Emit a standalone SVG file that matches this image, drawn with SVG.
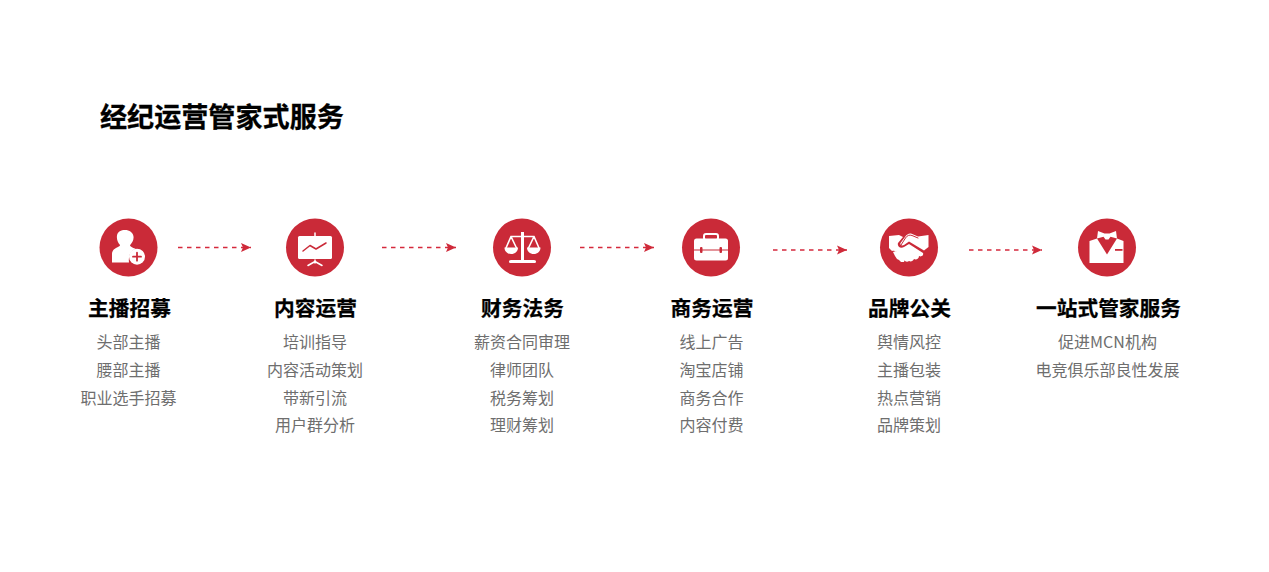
<svg xmlns="http://www.w3.org/2000/svg" width="1269" height="572" viewBox="0 0 1269 572">
<style>
text{font-family:"Noto Sans CJK SC","Noto Sans",sans-serif;text-anchor:middle}
.t{font-size:27.100px;font-weight:700;fill:#000;text-anchor:start;stroke:#000;stroke-width:.3}
.h{font-size:20.700px;font-weight:700;fill:#000;stroke:#000;stroke-width:.25}
.l{font-size:16px;fill:#6e6e6e}
.c{fill:#ca2a38}
.w{fill:#fff}
.n{fill:none;stroke:#fff;stroke-linecap:round;stroke-linejoin:round}
.r{fill:none;stroke:#ca2a38;stroke-linecap:round;stroke-linejoin:round}
.a{fill:none;stroke:#d5293c;stroke-width:1.500;stroke-dasharray:4.500 4.500;marker-end:url(#m)}
</style>
<defs><marker id="m" markerUnits="userSpaceOnUse" markerWidth="12" markerHeight="10" refX="10" refY="5" orient="auto"><path d="M0 0.500L10 5L0 9.500L2 5Z" fill="#cf2a3a"/></marker></defs>
<rect width="1269" height="572" fill="#fff"/>
<text class="t" x="100" y="127">经纪运营管家式服务</text>
<g id="connectors">
<path class="a" d="M178 247.500H251"/>
<path class="a" d="M382 247.500H456"/>
<path class="a" d="M580 247.500H654"/>
<path class="a" d="M773 250H847"/>
<path class="a" d="M969 250H1042"/>
</g>
<g id="node1">
<circle class="c" cx="128.500" cy="247.500" r="29"/>
<path class="w" d="M112 262.500V254.500C112 250.500 114 249 117 247.500C119 246.500 120 246 120 245C117.500 242 116.500 239 117 235.500C117.700 231.500 121 230 125 230C129.500 230 133 232.500 133.500 236.500C134 240 132 243 130 245.200C130.500 247 134 248 136 249C131 250 128 255 129 262.500Z"/>
<circle class="w" cx="137" cy="256.700" r="8"/>
<path class="r" stroke-width="1.800" d="M133 256.700H141M137 252.700V260.700"/>
<text class="h" x="129.500" y="315.500">主播招募</text>
<text class="l" x="128.500" y="348">头部主播</text>
<text class="l" x="128.500" y="376">腰部主播</text>
<text class="l" x="128.500" y="403.500">职业选手招募</text>
</g>
<g id="node2">
<circle class="c" cx="315" cy="247.500" r="29"/>
<path class="n" stroke-width="1.500" d="M315 233V236M315 260V263M308 265.500L315 261.500L322 265.500"/>
<rect class="w" x="298" y="236" width="34" height="23" rx="1.500"/>
<path class="r" stroke-width="1.500" d="M303 251L310 245.500L316 249L326 243"/>
<text class="h" x="315.500" y="315.500">内容运营</text>
<text class="l" x="315" y="348">培训指导</text>
<text class="l" x="315" y="376">内容活动策划</text>
<text class="l" x="315" y="403.500">带新引流</text>
<text class="l" x="315" y="431">用户群分析</text>
</g>
<g id="node3">
<circle class="c" cx="522" cy="247.500" r="29"/>
<path class="w" d="M521 232H524V260H521Z"/>
<path class="w" d="M511 260H534C535.500 260 536 261 536 261.500C536 262.500 535.500 263 534 263H511C509.500 263 509 262.500 509 261.500C509 261 509.500 260 511 260Z"/>
<path class="n" stroke-width="1.600" d="M511 236.500H534M511 236.500L506 248M511 236.500L516.500 248M534 236.500L528.500 248M534 236.500L539 248"/>
<path class="w" d="M504.500 247.500H518C518 251.500 515 254 511.200 254C507.500 254 504.500 251.500 504.500 247.500ZM527 247.500H540.500C540.500 251.500 537.500 254 533.800 254C530 254 527 251.500 527 247.500Z"/>
<text class="h" x="522.500" y="315.500">财务法务</text>
<text class="l" x="522" y="348">薪资合同审理</text>
<text class="l" x="522" y="376">律师团队</text>
<text class="l" x="522" y="403.500">税务筹划</text>
<text class="l" x="522" y="431">理财筹划</text>
</g>
<g id="node4">
<circle class="c" cx="711" cy="247.500" r="29"/>
<rect x="704" y="234" width="14" height="6" rx="2" fill="none" stroke="#fff" stroke-width="2"/>
<rect class="w" x="694" y="238.500" width="34" height="22" rx="2.500"/>
<path class="r" stroke-width="1.200" d="M694 250H728"/>
<rect class="c" x="700" y="247" width="2.500" height="6" rx="1"/>
<rect class="c" x="719.500" y="247" width="2.500" height="6" rx="1"/>
<text class="h" x="712" y="315.500">商务运营</text>
<text class="l" x="711.500" y="348">线上广告</text>
<text class="l" x="711.500" y="376">淘宝店铺</text>
<text class="l" x="711.500" y="403.500">商务合作</text>
<text class="l" x="711.500" y="431">内容付费</text>
</g>
<g id="node5">
<circle class="c" cx="909" cy="247.500" r="29"/>
<path class="w" d="M889 236L899 235L903 237L898 243C897 246 900 249 904 247L909 244L923 253C924 256 921 257 919 256C919 259 916 260 914 259C913 261 911 262 909 261C908 262 906 262 905 261L898 254C897 251 894 250 892 251L889 248Z"/>
<path class="w" d="M893 252L896 251L899 253L902 256L905 259L904 262L901 262L899 260L897 259L895 256Z"/>
<path class="w" d="M911 233.500L918 236.500L928.500 235V247L924 250.500L909 241.500L904 245C902 246 899.500 245 900.500 243L905 237C906.500 234.500 909 233 911 233.500Z"/>
<path class="r" stroke-width="1" d="M901 245L905.500 238C907 235.500 909.500 234.500 912 235.500L918 238"/>
<text class="h" x="909.500" y="315.500">品牌公关</text>
<text class="l" x="909" y="348">舆情风控</text>
<text class="l" x="909" y="376">主播包装</text>
<text class="l" x="909" y="403.500">热点营销</text>
<text class="l" x="909" y="431">品牌策划</text>
</g>
<g id="node6">
<circle class="c" cx="1107" cy="247.500" r="29"/>
<path class="w" d="M1097 238.500L1107 254.500L1117 238.500L1123.500 241V263H1089.500V241Z"/>
<path class="w" d="M1098 231L1104.500 233.500H1109.500L1116 231L1117 238.500L1110.500 236.800L1108.500 239.500H1105.500L1103.500 236.800L1097 238.500Z"/>
<rect class="c" x="1115" y="249" width="7.500" height="1.800"/>
<text class="h" x="1108.500" y="315.500">一站式管家服务</text>
<text class="l" x="1107.500" y="348">促进MCN机构</text>
<text class="l" x="1107.500" y="376">电竞俱乐部良性发展</text>
</g>
</svg>
